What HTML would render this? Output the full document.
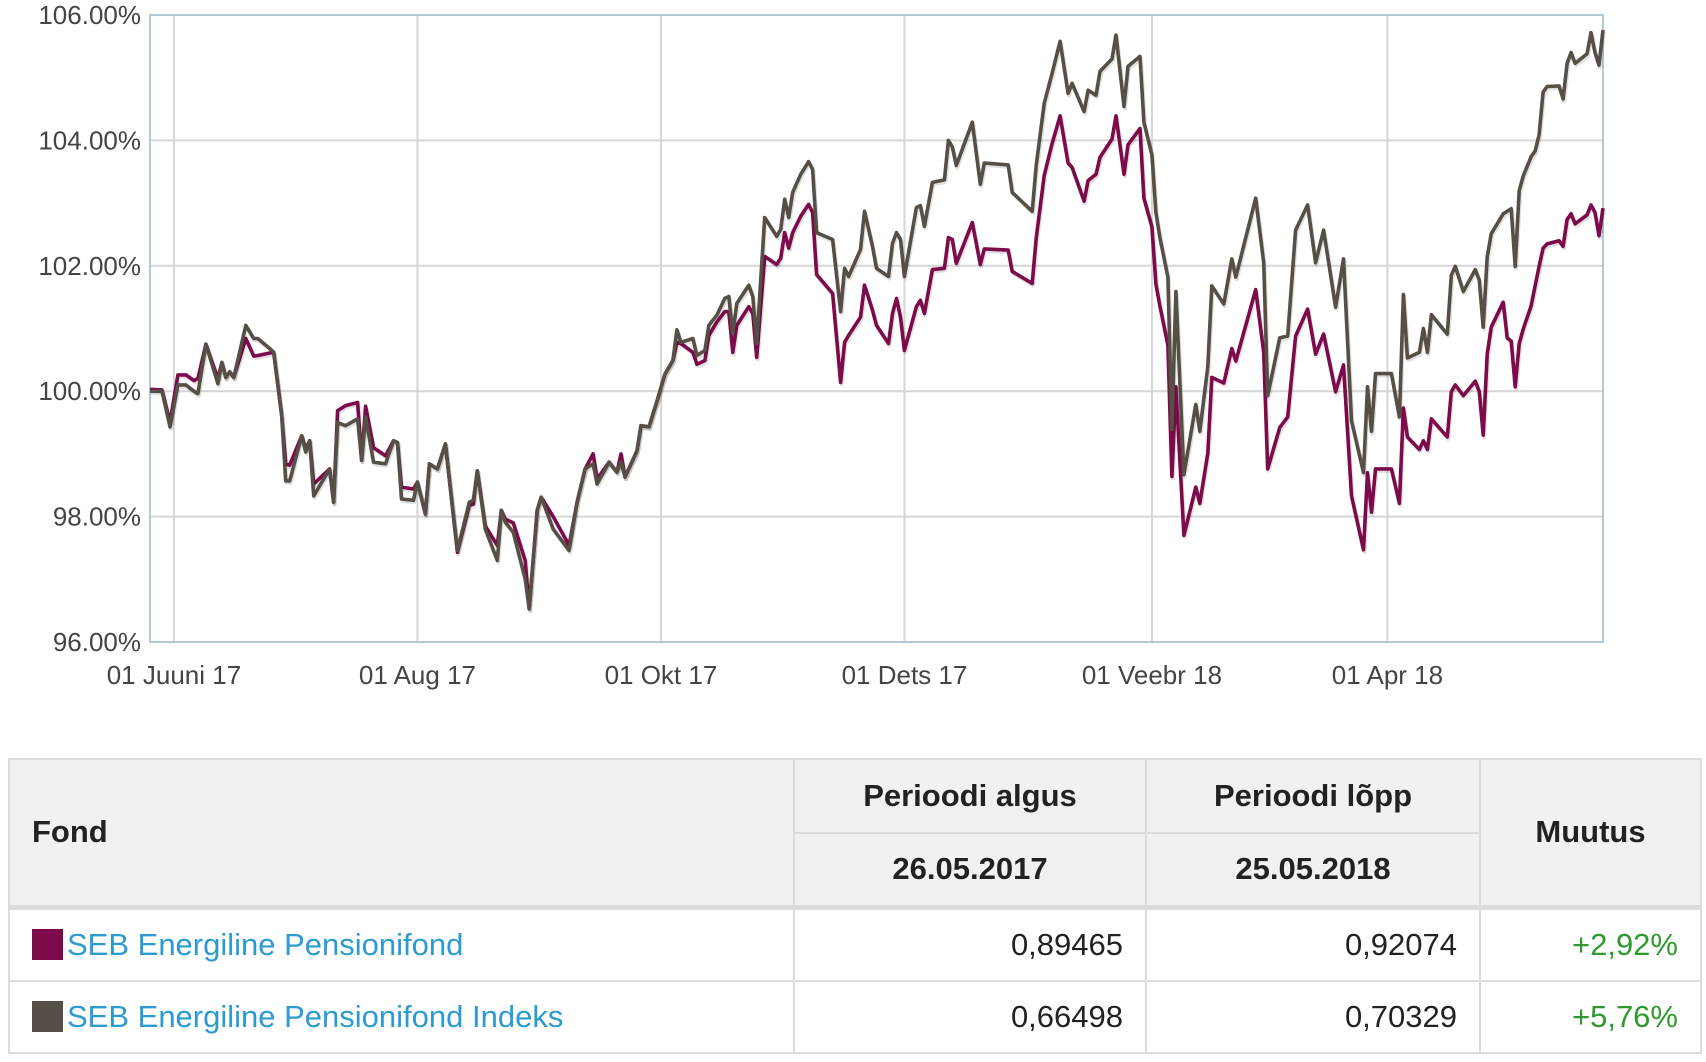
<!DOCTYPE html>
<html><head><meta charset="utf-8">
<style>
html,body{margin:0;padding:0;background:#fff;}
body{width:1706px;height:1062px;position:relative;overflow:hidden;font-family:"Liberation Sans","DejaVu Sans",sans-serif;}
#chart{position:absolute;left:0;top:0;}
table{position:absolute;left:8px;top:758px;width:1692px;border-collapse:collapse;table-layout:fixed;}
td,th{border:2px solid #dcdcdc;padding:0 22px;}
th{background:#f1f1f1;font-weight:bold;font-size:31px;color:#222;}
td{font-size:31px;color:#222;height:70px;}
.num{text-align:right;}
.pos{text-align:right;color:#2e9a2e;}
a{color:#2b9bd1;text-decoration:none;}
.sw{display:inline-block;width:31px;height:31px;vertical-align:-5px;margin-right:4px;}
</style></head>
<body>
<svg id="chart" width="1706" height="720"></svg>
<table>
<colgroup><col style="width:785px"><col style="width:352px"><col style="width:334px"><col style="width:221px"></colgroup>
<tr style="height:74px">
<th rowspan="2" style="text-align:left;border-bottom:5px solid #dcdcdc">Fond</th>
<th style="text-align:center">Perioodi algus</th>
<th style="text-align:center">Perioodi lõpp</th>
<th rowspan="2" style="text-align:center;border-bottom:5px solid #dcdcdc">Muutus</th>
</tr>
<tr style="height:74px">
<th style="text-align:center;border-bottom:5px solid #dcdcdc">26.05.2017</th>
<th style="text-align:center;border-bottom:5px solid #dcdcdc">25.05.2018</th>
</tr>
<tr>
<td><span class="sw" style="background:#7d0a4a"></span><a href="#">SEB Energiline Pensionifond</a></td>
<td class="num">0,89465</td>
<td class="num">0,92074</td>
<td class="pos">+2,92%</td>
</tr>
<tr>
<td><span class="sw" style="background:#564f45"></span><a href="#">SEB Energiline Pensionifond Indeks</a></td>
<td class="num">0,66498</td>
<td class="num">0,70329</td>
<td class="pos">+5,76%</td>
</tr>
</table>
<script>
const days=[0,3,5,7,9,11,12,14,17,18,19,20,21,24,26,27,30,31,33,34,35,38,39,40,41,45,46,47,49,52,53,54,56,59,61,62,63,66,67,69,70,72,74,77,80,81,82,84,87,88,89,91,94,95,97,98,101,105,107,109,111,112,115,117,118,119,122,123,125,127,129,131,132,133,136,137,139,140,142,144,145,146,147,150,151,152,154,157,158,159,160,161,163,165,166,167,171,173,174,175,178,179,181,182,185,186,187,188,189,192,193,194,196,199,200,201,202,206,208,209,215,216,221,222,224,226,228,230,231,234,235,237,238,241,242,244,245,248,249,251,252,253,255,256,257,259,262,263,265,266,269,271,272,277,279,280,283,285,287,290,292,294,297,299,301,304,305,306,307,311,313,314,315,318,319,320,321,325,326,327,329,332,333,334,335,336,339,340,341,342,343,344,346,347,348,349,350,353,354,355,356,357,360,361,362,363,364];
const fundValues=[100.03,100.02,99.5,100.26,100.26,100.17,100.2,100.75,100.2,100.46,100.22,100.31,100.22,100.84,100.56,100.57,100.61,100.62,99.61,98.84,98.82,99.29,99.08,99.21,98.52,98.76,98.23,99.69,99.77,99.82,98.9,99.76,99.1,98.97,99.21,99.18,98.47,98.44,98.55,98.04,98.84,98.76,99.16,97.43,98.18,98.2,98.73,97.85,97.54,98.1,97.96,97.9,97.3,96.53,98.1,98.31,98.0,97.54,98.23,98.76,99.0,98.6,98.87,98.71,99.0,98.63,99.05,99.45,99.43,99.84,100.27,100.49,100.78,100.76,100.62,100.43,100.49,100.89,101.1,101.27,101.27,100.62,101.05,101.35,101.24,100.54,102.15,102.02,102.12,102.53,102.28,102.53,102.79,102.98,102.85,101.86,101.56,100.14,100.78,100.89,101.18,101.69,101.29,101.05,100.76,101.24,101.48,101.18,100.65,101.35,101.45,101.24,101.94,101.96,102.45,102.42,102.04,102.69,102.02,102.27,102.25,101.91,101.72,102.44,103.44,103.95,104.39,103.64,103.57,103.03,103.36,103.46,103.73,104.02,104.39,103.46,103.93,104.19,103.08,102.62,101.71,101.36,100.73,98.64,100.07,97.7,98.47,98.21,99.01,100.22,100.13,100.68,100.48,101.62,100.62,98.76,99.42,99.59,100.88,101.31,100.59,100.91,99.99,100.42,98.33,97.47,98.7,98.07,98.76,98.76,98.21,99.73,99.27,99.07,99.21,99.07,99.56,99.27,99.99,100.1,99.93,100.16,99.99,99.3,100.59,101.02,101.42,100.85,100.8,100.07,100.76,100.99,101.36,101.68,101.99,102.28,102.35,102.4,102.31,102.74,102.83,102.67,102.81,102.97,102.85,102.48,102.92];
const indexValues=[100.0,100.0,99.43,100.1,100.1,100.0,99.96,100.75,100.12,100.46,100.22,100.31,100.22,101.05,100.84,100.84,100.68,100.62,99.61,98.57,98.57,99.29,99.03,99.21,98.33,98.76,98.23,99.5,99.45,99.56,98.9,99.59,98.87,98.84,99.21,99.18,98.28,98.26,98.55,98.04,98.84,98.76,99.16,97.46,98.23,98.26,98.73,97.8,97.3,98.1,97.91,97.75,97.0,96.53,98.1,98.31,97.8,97.46,98.23,98.76,98.84,98.52,98.87,98.71,98.87,98.63,99.05,99.45,99.43,99.84,100.27,100.49,100.98,100.78,100.84,100.57,100.65,101.05,101.21,101.48,101.51,100.92,101.4,101.69,101.51,100.76,102.77,102.47,102.58,103.06,102.77,103.17,103.46,103.66,103.54,102.53,102.42,101.27,101.96,101.83,102.26,102.87,102.31,101.96,101.83,102.36,102.53,102.42,101.83,102.93,102.96,102.63,103.33,103.37,104.0,103.9,103.6,104.29,103.3,103.64,103.61,103.17,102.87,103.6,104.59,105.07,105.58,104.75,104.91,104.46,104.8,104.72,105.1,105.3,105.68,104.54,105.18,105.34,104.29,103.77,102.85,102.45,101.82,99.39,101.59,98.67,99.79,99.36,100.39,101.68,101.39,102.11,101.82,103.08,102.05,99.93,100.85,100.88,102.57,102.97,102.05,102.57,101.34,102.11,99.53,98.7,100.07,99.36,100.28,100.28,99.59,101.54,100.53,100.62,101.0,100.62,101.22,100.91,101.85,101.99,101.59,101.94,101.77,101.02,102.14,102.51,102.83,102.87,102.91,101.99,103.2,103.43,103.74,103.83,104.09,104.77,104.86,104.87,104.66,105.23,105.4,105.23,105.38,105.72,105.4,105.2,105.76];
const yTicks=[96,98,100,102,104,106];
const yTickLabels=["96.00%","98.00%","100.00%","102.00%","104.00%","106.00%"];
const xTickDays=[6,67,128,189,251,310];
const xTickLabels=["01 Juuni 17","01 Aug 17","01 Okt 17","01 Dets 17","01 Veebr 18","01 Apr 18"];

const L=150,R=1603,T=15,B=642,D0=0,D1=364,V0=96,V1=106;
function xs(d){return L+(d-D0)/(D1-D0)*(R-L);}
function ys(v){return B-(v-V0)/(V1-V0)*(B-T);}
const NS="http://www.w3.org/2000/svg";
const svg=document.getElementById('chart');
function mk(tag,attrs,parent){const e=document.createElementNS(NS,tag);for(const k in attrs)e.setAttribute(k,attrs[k]);(parent||svg).appendChild(e);return e;}

const grid=mk('g',{});


yTicks.forEach((v,i)=>{
  const ln=mk('line',{x1:L,x2:R,y1:ys(v),y2:ys(v),stroke:'#d6d6d6','stroke-width':2},grid);
  
  
  const t=mk('text',{x:L-9,y:ys(v)+9,'text-anchor':'end','font-size':26,fill:'#444','font-family':'Liberation Sans, sans-serif'});
  t.textContent=yTickLabels[i];
  
  
});
xTickDays.forEach((d,i)=>{
  const ln=mk('line',{x1:xs(d),x2:xs(d),y1:T,y2:B,stroke:'#d6d6d6','stroke-width':2},grid);
  
  
  const t=mk('text',{x:xs(d),y:684,'text-anchor':'middle','font-size':26,fill:'#444','font-family':'Liberation Sans, sans-serif'});
  t.textContent=xTickLabels[i];
  
  
});
const frame=mk('rect',{x:L,y:T,width:R-L,height:B-T,fill:'none',stroke:'#b3c9d8','stroke-width':2});



function pts(vals){return days.map((d,i)=>xs(d).toFixed(1)+','+ys(vals[i]).toFixed(1)).join(' ');}
[[fundValues,'#7d0a4a','fund-line'],[indexValues,'#564f45','index-line']].forEach(([vals,col,name])=>{
  const sh=mk('polyline',{points:pts(vals),fill:'none',stroke:'rgba(0,0,0,0.12)','stroke-width':4,transform:'translate(1,2)','stroke-linejoin':'round'});
  
  
  const pl=mk('polyline',{points:pts(vals),fill:'none',stroke:col,'stroke-width':3.6,'stroke-linejoin':'round'});
  
  
});
</script>
</body></html>
